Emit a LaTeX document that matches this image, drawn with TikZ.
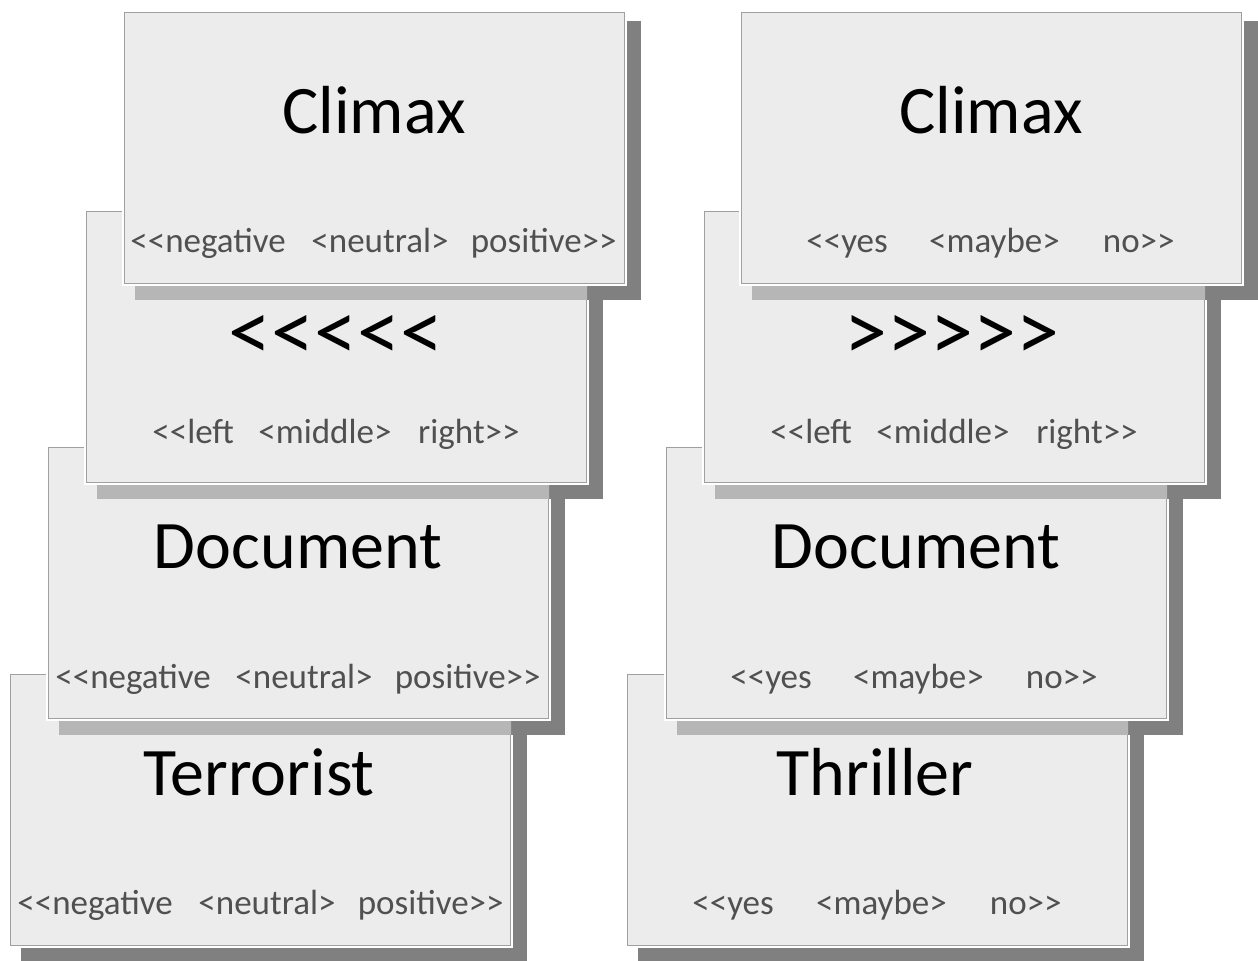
\documentclass[tikz,border=0pt]{standalone}
\usepackage{fontspec}
\newfontfamily\cardfont{Carlito}
\definecolor{card_fill}{RGB}{236,236,236}
\definecolor{card_edge}{RGB}{160,160,160}
\definecolor{drop_dark}{RGB}{128,128,128}
\definecolor{drop_light}{RGB}{182,182,182}
\definecolor{label_gray}{RGB}{80,80,80}

\begin{document}
\begin{tikzpicture}[x=0.5pt,y=-0.5pt]
    \tikzstyle{card}=[anchor=north west, inner sep=0pt, minimum width=250pt, minimum height=135.5pt, fill=card_fill, draw=card_edge, line width=0.5pt, preaction={draw=white, line width=2.5pt}]
    \tikzstyle{head}=[anchor=base, inner sep=0pt, text=black, font=\cardfont\fontsize{34}{40}\selectfont]
    \tikzstyle{chevrons}=[style=head, font=\cardfont\fontsize{43}{48}\selectfont]
    \tikzstyle{lab}=[anchor=base, inner sep=0pt, text=label_gray, font=\cardfont\fontsize{17.5}{20}\selectfont]
    \tikzstyle{labl}=[style=lab, anchor=base west]
    \tikzstyle{labr}=[style=lab, anchor=base east]
    \tikzstyle{drop}=[fill=drop_dark]
    \tikzstyle{dropon}=[fill=drop_light]

    \useasboundingbox[fill=white] (0,0) rectangle (1258,960);

    % left stack, bottom card first
    \fill[drop] (21,683) rectangle (527,962);
    \node[card] (l4) at (10,674) {};
    \node[head] (l4t) at (259,795) {Terrorist};
    \node[labl] (l4a) at (17,914)  {<<negative};
    \node[lab]  (l4b) at (267,914) {<neutral>};
    \node[labr] (l4c) at (504,914) {positive>>};

    \fill[drop] (59,456) rectangle (565,735);
    \begin{scope}
      \clip (l4.north west) rectangle (l4.south east);
      \fill[dropon] (59,456) rectangle (565,735);
    \end{scope}
    \node[card] (l3) at (48,447) {};
    \node[head] (l3t) at (298,568) {Document};
    \node[labl] (l3a) at (55,688)  {<<negative};
    \node[lab]  (l3b) at (304,688) {<neutral>};
    \node[labr] (l3c) at (541,688) {positive>>};

    \fill[drop] (97,220) rectangle (603,499);
    \begin{scope}
      \clip (l3.north west) rectangle (l3.south east);
      \fill[dropon] (97,220) rectangle (603,499);
    \end{scope}
    \node[card] (l2) at (86,211) {};
    \node[chevrons] (l2t) at (336,360) {<<<<<};
    \node[labl] (l2a) at (152,443) {<<left};
    \node[lab]  (l2b) at (325,443) {<middle>};
    \node[labr] (l2c) at (520,443) {right>>};

    \fill[drop] (135,21) rectangle (641,300);
    \begin{scope}
      \clip (l2.north west) rectangle (l2.south east);
      \fill[dropon] (135,21) rectangle (641,300);
    \end{scope}
    \node[card] (l1) at (124,12) {};
    \node[head] (l1t) at (374,133) {Climax};
    \node[labl] (l1a) at (130,252) {<<negative};
    \node[lab]  (l1b) at (380,252) {<neutral>};
    \node[labr] (l1c) at (617,252) {positive>>};

    % right stack
    \fill[drop] (638,683) rectangle (1144,962);
    \node[card] (r4) at (627,674) {};
    \node[head] (r4t) at (875,795) {Thriller};
    \node[labl] (r4a) at (692,914)   {<<yes};
    \node[lab]  (r4b) at (881.5,914) {<maybe>};
    \node[labr] (r4c) at (1062,914)  {no>>};

    \fill[drop] (677,456) rectangle (1183,735);
    \begin{scope}
      \clip (r4.north west) rectangle (r4.south east);
      \fill[dropon] (677,456) rectangle (1183,735);
    \end{scope}
    \node[card] (r3) at (666,447) {};
    \node[head] (r3t) at (916,568) {Document};
    \node[labl] (r3a) at (730,688)   {<<yes};
    \node[lab]  (r3b) at (918.5,688) {<maybe>};
    \node[labr] (r3c) at (1098,688)  {no>>};

    \fill[drop] (715,220) rectangle (1221,499);
    \begin{scope}
      \clip (r3.north west) rectangle (r3.south east);
      \fill[dropon] (715,220) rectangle (1221,499);
    \end{scope}
    \node[card] (r2) at (704,211) {};
    \node[chevrons] (r2t) at (952,360) {>>>>>};
    \node[labl] (r2a) at (770,443)  {<<left};
    \node[lab]  (r2b) at (943,443)  {<middle>};
    \node[labr] (r2c) at (1138,443) {right>>};

    \fill[drop] (752,21) rectangle (1258,300);
    \begin{scope}
      \clip (r2.north west) rectangle (r2.south east);
      \fill[dropon] (752,21) rectangle (1258,300);
    \end{scope}
    \node[card] (r1) at (741,12) {};
    \node[head] (r1t) at (991,133) {Climax};
    \node[labl] (r1a) at (806,252)   {<<yes};
    \node[lab]  (r1b) at (994.5,252) {<maybe>};
    \node[labr] (r1c) at (1175,252)  {no>>};
\end{tikzpicture}
\end{document}
